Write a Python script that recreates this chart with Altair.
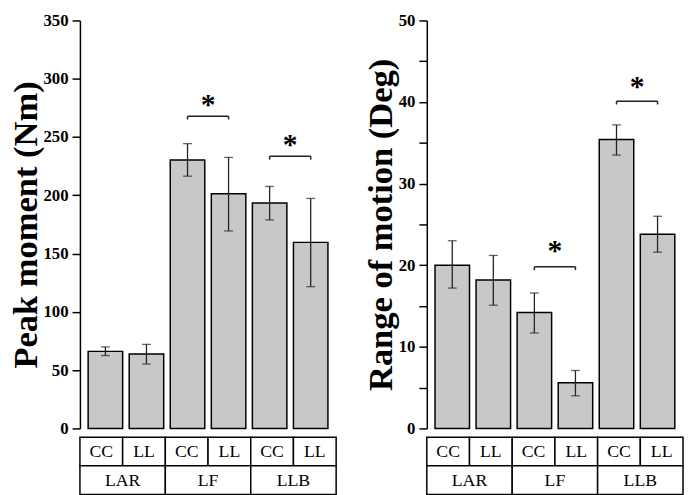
import altair as alt
import pandas as pd

groups = ["LAR", "LAR", "LF", "LF", "LLB", "LLB"]
conds = ["CC", "LL", "CC", "LL", "CC", "LL"]
group_names = ["LAR", "LF", "LLB"]

peak_mean = [66.1, 63.9, 230.3, 201.4, 193.4, 159.6]
peak_lo = [62.5, 55.2, 216.4, 169.4, 178.9, 121.6]
peak_hi = [69.9, 72.1, 244.3, 232.5, 207.6, 197.3]

rom_mean = [20.0, 18.2, 14.2, 5.6, 35.4, 23.8]
rom_lo = [17.2, 15.1, 11.7, 4.0, 33.5, 21.6]
rom_hi = [23.0, 21.2, 16.6, 7.1, 37.2, 26.0]

# significance brackets: first cell, second cell, bracket level, star level
peak_sig_a = [2, 4]
peak_sig_b = [3, 5]
peak_sig_level = [267.8, 233.4]
peak_star_level = [282.8, 248.0]

rom_sig_a = [2, 4]
rom_sig_b = [3, 5]
rom_sig_level = [19.8, 40.1]
rom_star_level = [22.4, 42.5]

FONT = "Liberation Serif"
W = 260
H = 414
TH = 58
XS = alt.Scale(domain=[0, 6], nice=False, zero=False)


def top_panel(mean, lo, hi, sa, sb, slev, star, ymax, step, lstep, title):
    df = pd.DataFrame({"idx": list(range(6)), "group": groups, "cond": conds,
                       "mean": mean, "lo": lo, "hi": hi})
    sig = pd.DataFrame({"a": sa, "b": sb, "level": slev, "star": star})
    ys = alt.Scale(domain=[0, ymax], nice=False)
    base = alt.Chart(df).transform_calculate(center="datum.idx + 0.5")
    ticks = [i * step for i in range(int(ymax / step) + 1)]
    yaxis = alt.Axis(
        title=title, values=ticks,
        labelExpr=f"datum.value % {lstep} === 0 ? datum.label : ''",
        tickSize=8,
        labelFont=FONT, labelFontWeight="bold", labelFontSize=17, labelColor="black",
        labelPadding=4, titleFont=FONT, titleFontWeight="bold", titleFontSize=35,
        titleColor="black", titlePadding=0, domainColor="black", domainWidth=1.5,
        tickColor="black", tickWidth=1.5, grid=False,
    )
    bars = base.mark_bar(size=35, orient="vertical", fill="#c8c8c8", stroke="black",
                         strokeWidth=1.5).encode(
        x=alt.X("center:Q", scale=XS, axis=None),
        y=alt.Y("mean:Q", scale=ys, axis=yaxis),
    )
    err = base.mark_rule(color="#222222", strokeWidth=1.3).encode(
        x="center:Q", y="lo:Q", y2="hi:Q")
    cap_lo = base.mark_tick(orient="horizontal", size=9, thickness=1.3, color="#222222").encode(
        x="center:Q", y="lo:Q")
    cap_hi = base.mark_tick(orient="horizontal", size=9, thickness=1.3, color="#222222").encode(
        x="center:Q", y="hi:Q")
    drop = ymax * 0.008
    sbase = alt.Chart(sig).transform_calculate(
        x1="datum.a + 0.5", x2="datum.b + 0.5", xm="(datum.a + datum.b) / 2 + 0.5",
        low=f"datum.level - {drop}")
    br = sbase.mark_rule(color="#222222", strokeWidth=1.5).encode(
        x="x1:Q", x2="x2:Q", y="level:Q")
    br_l = sbase.mark_rule(color="#222222", strokeWidth=1.5).encode(
        x="x1:Q", y="level:Q", y2="low:Q")
    br_r = sbase.mark_rule(color="#222222", strokeWidth=1.5).encode(
        x="x2:Q", y="level:Q", y2="low:Q")
    st = sbase.mark_text(text="*", font=FONT, fontWeight="bold", fontSize=30,
                         baseline="middle", dy=6, color="black").encode(
        x="xm:Q", y="star:Q")
    return alt.layer(bars, err, cap_lo, cap_hi, br, br_l, br_r, st).properties(width=W, height=H)


def table_panel():
    cells = pd.DataFrame({
        "start": list(range(6)) + [0, 2, 4],
        "span": [1] * 6 + [2] * 3,
        "row": [0] * 6 + [1] * 3,
        "label": conds + group_names,
    })
    ty = alt.Scale(domain=[0, 2], reverse=True, nice=False)
    c = alt.Chart(cells).transform_calculate(
        xe="datum.start + datum.span", xc="datum.start + datum.span / 2",
        re="datum.row + 1", rc="datum.row + 0.5")
    rect = c.mark_rect(fill="white", stroke="black", strokeWidth=1.5).encode(
        x=alt.X("start:Q", scale=XS, axis=None), x2="xe:Q",
        y=alt.Y("row:Q", scale=ty, axis=None), y2="re:Q")
    txt = c.mark_text(font=FONT, fontSize=18, color="black", baseline="middle", dy=1).encode(
        x="xc:Q", y="rc:Q", text="label:N")
    return alt.layer(rect, txt).properties(width=W, height=TH)


top_l = top_panel(peak_mean, peak_lo, peak_hi, peak_sig_a, peak_sig_b, peak_sig_level,
                  peak_star_level, 350, 25, 50, "Peak moment (Nm)")
top_r = top_panel(rom_mean, rom_lo, rom_hi, rom_sig_a, rom_sig_b, rom_sig_level,
                  rom_star_level, 50, 5, 10, "Range of motion (Deg)")

left = alt.vconcat(top_l, table_panel(), spacing=0)
right = alt.vconcat(top_r, table_panel(), spacing=0)
chart = alt.hconcat(left, right, spacing=27).properties(padding=0).configure_view(stroke=None)
chart.save("out.html", embed_options={"renderer": "svg", "actions": False})
